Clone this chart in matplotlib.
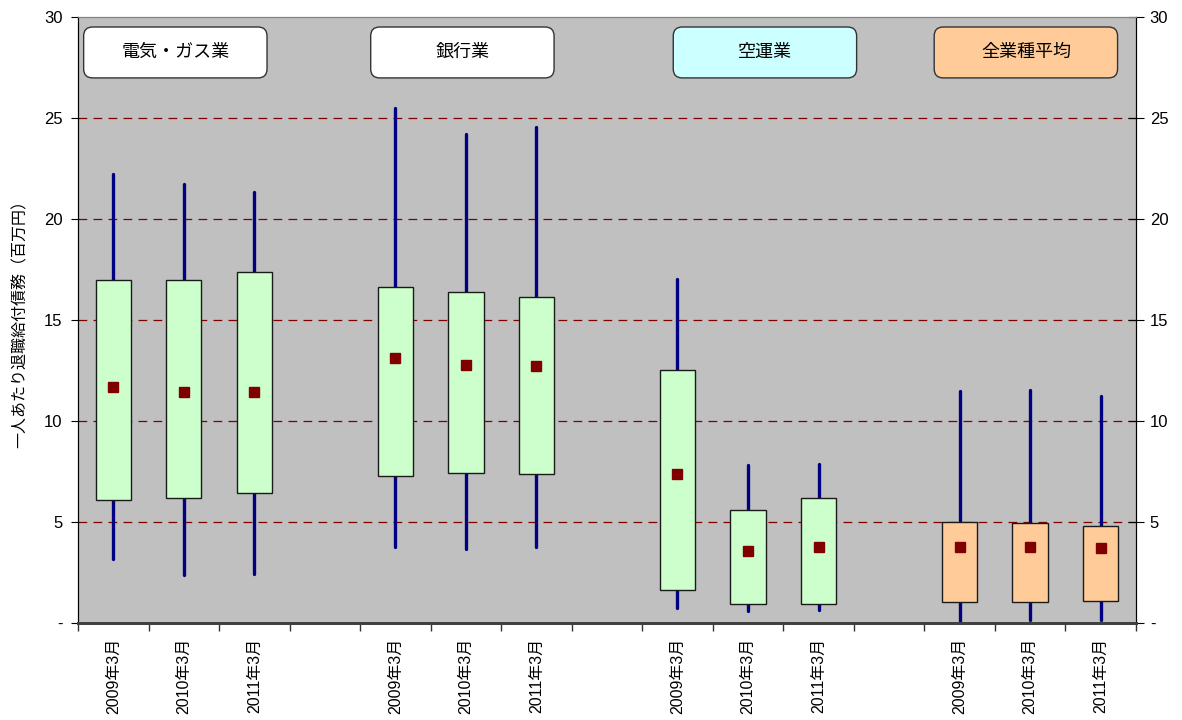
import matplotlib
matplotlib.use("Agg")
import matplotlib.pyplot as plt
from matplotlib.patches import FancyBboxPatch
from matplotlib.ticker import FixedLocator, FuncFormatter

plt.rcParams['font.family'] = ['Liberation Sans', 'Noto Sans CJK JP', 'DejaVu Sans']

# Industries and fiscal periods
categories = ['電気・ガス業', '銀行業', '空運業', '全業種平均']
periods = ['2009年3月', '2010年3月', '2011年3月']

# Retirement benefit obligation per employee (million yen), per industry x period
highs = [[22.2, 21.72, 21.34],
         [25.5, 24.2, 24.55],
         [17.0, 7.79, 7.87],
         [11.47, 11.53, 11.24]]
upper = [[16.97, 16.95, 17.36],
         [16.6, 16.36, 16.11],
         [12.52, 5.59, 6.16],
         [4.97, 4.94, 4.79]]
means = [[11.68, 11.42, 11.44],
         [13.1, 12.76, 12.72],
         [7.38, 3.56, 3.73],
         [3.77, 3.73, 3.70]]
lower = [[6.07, 6.16, 6.4],
         [7.25, 7.41, 7.38],
         [1.63, 0.91, 0.93],
         [1.03, 1.03, 1.08]]
lows = [[3.14, 2.36, 2.43],
        [3.76, 3.65, 3.76],
        [0.73, 0.58, 0.64],
        [0.10, 0.15, 0.15]]

box_colors = ['#CCFFCC', '#CCFFCC', '#CCFFCC', '#FFCC99']
tag_colors = ['#FFFFFF', '#FFFFFF', '#CCFFFF', '#FFCC99']
y_ticks = [0, 5, 10, 15, 20, 25, 30]
y_label = '一人あたり退職給付債務（百万円）'

fig = plt.figure(figsize=(11.82, 7.2), dpi=100)
ax = fig.add_axes([0.066, 0.1351, 0.895, 0.8417])
ax.set_facecolor('#C0C0C0')

n_per = len(periods)
slot = n_per + 1  # one empty slot between industry groups
n_slots = slot * len(categories) - 1
ax.set_xlim(-0.5, n_slots - 0.5)
ax.set_ylim(0, 30)

centers, labels = [], []
for g, cat in enumerate(categories):
    xs = [g * slot + i for i in range(n_per)]
    centers += xs
    labels += periods
    # whiskers
    ax.vlines(xs, lows[g], highs[g], colors='#000080', linewidth=2.4,
              zorder=3, capstyle='round')
    # boxes
    ax.bar(xs, [u - l for u, l in zip(upper[g], lower[g])], bottom=lower[g],
           width=0.5, color=box_colors[g], edgecolor='#1a1a1a',
           linewidth=1.0, zorder=4)
    # mean markers
    ax.plot(xs, means[g], linestyle='none', marker='s', markersize=7,
            color='#800000', zorder=5)

# Industry name tags
x0, x1 = ax.get_xlim()
tag_shift = [-0.12, -0.05, 0.24, -0.06]
tag_centers = [g * slot + 1 + s for g, s in enumerate(tag_shift)]
tag_w = 2.6
axw_px = 0.895 * 1182
axh_px = 0.8417 * 720
for cx, cat, col in zip(tag_centers, categories, tag_colors):
    left = (cx - tag_w / 2 - x0) / (x1 - x0)
    wid = tag_w / (x1 - x0)
    bot = 26.97 / 30
    hgt = (29.49 - 26.97) / 30
    patch = FancyBboxPatch((left, bot), wid, hgt, transform=ax.transAxes,
                           boxstyle='round,pad=0,rounding_size=0.0085',
                           mutation_aspect=axw_px / axh_px,
                           facecolor=col, edgecolor='#333333',
                           linewidth=1.0, zorder=6)
    ax.add_patch(patch)
    ax.text(left + wid / 2, bot + hgt / 2, cat, transform=ax.transAxes,
            ha='center', va='center', fontsize=13, zorder=7)

# Grid
for y in y_ticks[1:-1]:
    ax.axhline(y, color='#800000', linewidth=0.9, linestyle=(0, (7, 5)),
               zorder=1)

# X axis: ticks at slot boundaries, labels at box centres
ax.xaxis.set_major_locator(FixedLocator([k - 0.5 for k in range(n_slots + 1)]))
ax.xaxis.set_major_formatter(FuncFormatter(lambda v, p: ''))
ax.xaxis.set_minor_locator(FixedLocator(centers))
ax.set_xticklabels(labels, minor=True, rotation=90, fontsize=11.5)
ax.tick_params(axis='x', which='major', direction='out', length=6,
               width=1, color='#333333')
ax.tick_params(axis='x', which='minor', length=0, pad=11)

fmt = FuncFormatter(lambda v, p: '-' if v == 0 else f'{int(v)}')
ax.set_yticks(y_ticks)
ax.yaxis.set_major_formatter(fmt)
ax.tick_params(axis='y', direction='out', length=5, labelsize=12, pad=6)
ax.set_ylabel(y_label, fontsize=11.5, labelpad=12)

ax2 = ax.twinx()
ax2.set_ylim(0, 30)
ax2.set_yticks(y_ticks)
ax2.yaxis.set_major_formatter(fmt)
ax2.tick_params(axis='y', direction='inout', length=12, labelsize=12, pad=4)

for a in (ax, ax2):
    a.spines['top'].set_color('#808080')
    a.spines['bottom'].set_color('#404040')
    a.spines['bottom'].set_linewidth(2)
    a.spines['left'].set_color('black')
    a.spines['right'].set_color('black')

fig.savefig('out.png', dpi=100)
